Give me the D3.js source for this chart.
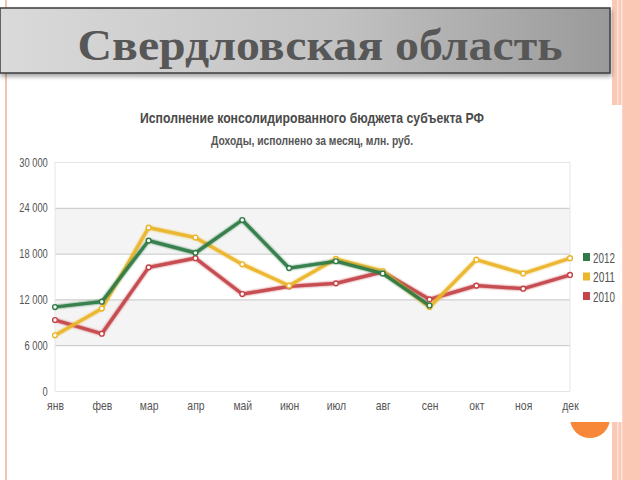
<!DOCTYPE html>
<html>
<head>
<meta charset="utf-8">
<script src="https://cdn.jsdelivr.net/npm/d3@7"></script>
<style>
  html, body { margin: 0; padding: 0; background: #fff; }
  svg { display: block; }
</style>
</head>
<body>
<svg id="chart" width="640" height="480"></svg>
<script>
// data
const months = ["янв", "фев", "мар", "апр", "май", "июн", "июл", "авг", "сен", "окт", "ноя", "дек"];
const values2012 = [11000, 11700, 19700, 18100, 22400, 16100, 17000, 15400, 11200];
const values2011 = [7300, 10800, 21400, 20100, 16600, 13800, 17300, 15700, 11000, 17200, 15400, 17400];
const values2010 = [9300, 7500, 16200, 17400, 12700, 13700, 14100, 15600, 12000, 13800, 13400, 15200];
const yTicks = [0, 6000, 12000, 18000, 24000, 30000];
const seriesNames = ["2012", "2011", "2010"];

const series = [
  { name: "2012", values: values2012, color: "#2f7a45" },
  { name: "2011", values: values2011, color: "#ebb52c" },
  { name: "2010", values: values2010, color: "#c4444a" },
];

const svg = d3.select("#chart");
const defs = svg.append("defs");

// slide decoration
svg.append("rect").attr("x", 5).attr("y", 0).attr("width", 2).attr("height", 480).attr("fill", "#f6c2b4");
svg.append("rect").attr("x", 612).attr("y", 0).attr("width", 28).attr("height", 480).attr("fill", "#fbc8b6");
svg.append("rect").attr("x", 617).attr("y", 0).attr("width", 1.5).attr("height", 480).attr("fill", "#fde4da");
svg.append("rect").attr("x", 621).attr("y", 0).attr("width", 1.5).attr("height", 480).attr("fill", "#fde4da");
svg.append("circle").attr("cx", 590).attr("cy", 418).attr("r", 20).attr("fill", "#f7883a");

// header box
const grad = defs.append("linearGradient").attr("id", "hdr").attr("x1", 0).attr("x2", 1).attr("y1", 0).attr("y2", 0);
grad.append("stop").attr("offset", "0%").attr("stop-color", "#dadada");
grad.append("stop").attr("offset", "55%").attr("stop-color", "#c2c2c2");
grad.append("stop").attr("offset", "100%").attr("stop-color", "#9a9a9a");

const shadow = defs.append("filter").attr("id", "hshadow").attr("x", "-5%").attr("y", "-20%").attr("width", "110%").attr("height", "160%");
shadow.append("feDropShadow").attr("dx", 1).attr("dy", 3).attr("stdDeviation", 2).attr("flood-color", "#000").attr("flood-opacity", 0.35);

svg.append("rect")
  .attr("x", 0).attr("y", 8).attr("width", 610).attr("height", 65)
  .attr("fill", "url(#hdr)")
  .attr("stroke", "#3c3c3c").attr("stroke-width", 1.5)
  .attr("filter", "url(#hshadow)");

svg.append("text")
  .attr("x", 320).attr("y", 60)
  .attr("text-anchor", "middle")
  .attr("textLength", 485).attr("lengthAdjust", "spacingAndGlyphs")
  .style("font-family", "'Liberation Serif', 'DejaVu Serif', serif")
  .style("font-weight", "bold")
  .style("font-size", "44px")
  .attr("fill", "#575757")
  .text("Свердловская область");

// chart image area
svg.append("rect").attr("x", 10).attr("y", 105).attr("width", 612).attr("height", 317).attr("fill", "#fff");

const font = "'Liberation Sans', Arial, sans-serif";

svg.append("text")
  .attr("x", 312).attr("y", 123)
  .attr("text-anchor", "middle")
  .attr("textLength", 344).attr("lengthAdjust", "spacingAndGlyphs")
  .style("font-family", font).style("font-size", "14px").style("font-weight", "bold")
  .attr("fill", "#4a4a4a")
  .text("Исполнение консолидированного бюджета субъекта РФ");

svg.append("text")
  .attr("x", 312).attr("y", 145)
  .attr("text-anchor", "middle")
  .attr("textLength", 202).attr("lengthAdjust", "spacingAndGlyphs")
  .style("font-family", font).style("font-size", "12px").style("font-weight", "bold")
  .attr("fill", "#555")
  .text("Доходы, исполнено за месяц, млн. руб.");

const x = d3.scalePoint().domain(months).range([55, 570]);
const y = d3.scaleLinear().domain([0, 30000]).range([391, 162]);

// bands
const g = svg.append("g");
for (let i = 0; i < yTicks.length - 1; i++) {
  g.append("rect")
    .attr("x", 55).attr("width", 515)
    .attr("y", y(yTicks[i + 1])).attr("height", y(yTicks[i]) - y(yTicks[i + 1]))
    .attr("fill", i % 2 === 1 ? "#f4f4f4" : "#fff");
}

// grid + y axis
const yAxis = d3.axisLeft(y).tickValues(yTicks).tickSize(-515).tickPadding(10)
  .tickFormat(d => d3.format(",")(d).replace(/,/g, " "));
const ya = g.append("g").attr("transform", "translate(55,0)").call(yAxis);
ya.select(".domain").remove();
ya.selectAll(".tick line").attr("stroke", d => (d === 0 || d === 30000) ? "#e4e4e4" : "#cfcfcf").attr("stroke-width", 1.2);
ya.selectAll(".tick text").attr("fill", "#555").style("font-family", font).style("font-size", "13px")
  .attr("transform", "scale(0.72,1)");

// plot frame sides
g.append("line").attr("x1", 55).attr("x2", 55).attr("y1", 162).attr("y2", 391).attr("stroke", "#e6e6e6");
g.append("line").attr("x1", 570).attr("x2", 570).attr("y1", 162).attr("y2", 391).attr("stroke", "#e6e6e6");

// x axis
const xa = g.append("g").attr("transform", "translate(0,391)").call(d3.axisBottom(x).tickSize(0).tickPadding(10));
xa.select(".domain").remove();
xa.selectAll(".tick text").attr("fill", "#555").style("font-family", font).style("font-size", "13px")
  .attr("transform", "scale(0.8,1)");

// lines
const glow = defs.append("filter").attr("id", "glow").attr("x", "-5%").attr("y", "-10%").attr("width", "110%").attr("height", "120%");
glow.append("feGaussianBlur").attr("in", "SourceGraphic").attr("stdDeviation", 1.2).attr("result", "b");
const merge = glow.append("feMerge");
merge.append("feMergeNode").attr("in", "b");
merge.append("feMergeNode").attr("in", "SourceGraphic");

const line = d3.line().x((d, i) => x(months[i])).y(d => y(d));

series.slice().reverse().forEach(s => {
  const sg = g.append("g");
  sg.append("path")
    .attr("d", line(s.values))
    .attr("fill", "none")
    .attr("stroke", s.color)
    .attr("stroke-width", 3.2)
    .attr("stroke-linejoin", "round")
    .attr("opacity", 0.95)
    .attr("filter", "url(#glow)");
  sg.selectAll("circle")
    .data(s.values)
    .join("circle")
    .attr("cx", (d, i) => x(months[i]))
    .attr("cy", d => y(d))
    .attr("r", 2.4)
    .attr("fill", "#fff")
    .attr("stroke", s.color)
    .attr("stroke-width", 1.4);
});

// legend
const legend = g.append("g").attr("transform", "translate(583,258)");
seriesNames.forEach((name, i) => {
  const s = series.find(d => d.name === name);
  const item = legend.append("g").attr("transform", `translate(0,${i * 19.5})`);
  item.append("rect").attr("x", 0).attr("y", -5).attr("width", 7).attr("height", 8).attr("fill", s.color);
  item.append("text").attr("x", 10).attr("y", 4.5)
    .attr("textLength", 22).attr("lengthAdjust", "spacingAndGlyphs")
    .attr("fill", "#555").style("font-family", font).style("font-size", "14px")
    .text(name);
});
</script>
</body>
</html>
